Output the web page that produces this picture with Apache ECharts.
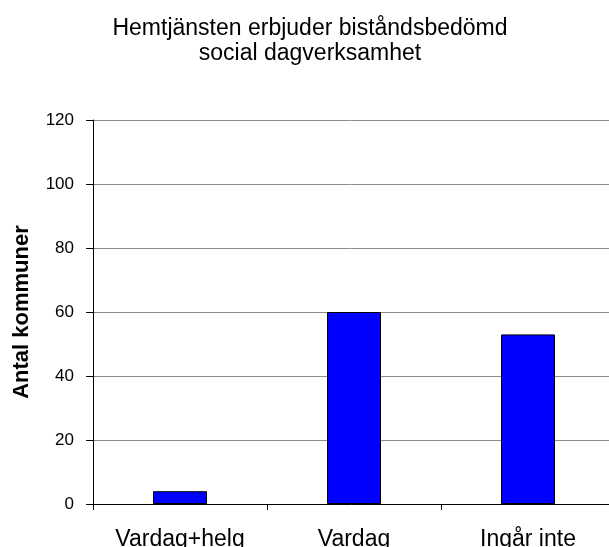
<!DOCTYPE html>
<html>
<head>
<meta charset="utf-8">
<script src="https://cdn.jsdelivr.net/npm/echarts@6/dist/echarts.min.js"></script>
<style>
html, body { margin: 0; padding: 0; background: #fff; }
#chart { width: 609px; height: 547px; }
</style>
</head>
<body>
<div id="chart"></div>
<script>
var categories = ['Vardag+helg', 'Vardag', 'Ingår inte'];
var values = [4, 60, 53];
var yTicks = [0, 20, 40, 60, 80, 100, 120];

var chart = echarts.init(document.getElementById('chart'));
chart.setOption({
    animation: false,
    title: {
        text: 'Hemtjänsten erbjuder biståndsbedömd\nsocial dagverksamhet',
        left: 305,
        textAlign: 'center',
        top: 11,
        textStyle: {
            fontFamily: 'Liberation Sans, Arial',
            fontSize: 23,
            fontWeight: 'normal',
            color: '#000',
            lineHeight: 25
        }
    },
    grid: {
        left: 93,
        width: 522,
        top: 120,
        bottom: 43,
        outerBoundsMode: 'none',
        containLabel: false
    },
    xAxis: {
        type: 'category',
        data: categories,
        axisLine: { lineStyle: { color: '#000', width: 1 } },
        axisTick: { show: true, length: 6, lineStyle: { color: '#000' } },
        axisLabel: {
            margin: 24,
            fontFamily: 'Liberation Sans, Arial',
            fontSize: 23,
            color: '#000'
        }
    },
    yAxis: {
        type: 'value',
        min: yTicks[0],
        max: yTicks[yTicks.length - 1],
        interval: 20,
        name: 'Antal kommuner',
        nameLocation: 'middle',
        nameGap: 60,
        nameTextStyle: {
            fontFamily: 'Liberation Sans, Arial',
            fontSize: 22,
            fontWeight: 'bold',
            color: '#000'
        },
        axisLine: { show: true, lineStyle: { color: '#000', width: 1 } },
        axisTick: { show: true, length: 7, lineStyle: { color: '#000' } },
        axisLabel: {
            margin: 19,
            fontFamily: 'Liberation Sans, Arial',
            fontSize: 17,
            color: '#000'
        },
        splitLine: { lineStyle: { color: '#8c8c8c', width: 1 } }
    },
    series: [{
        type: 'bar',
        data: values,
        barWidth: 54,
        itemStyle: {
            color: '#0000ff',
            borderColor: '#000',
            borderWidth: 1
        }
    }]
});
</script>
</body>
</html>
